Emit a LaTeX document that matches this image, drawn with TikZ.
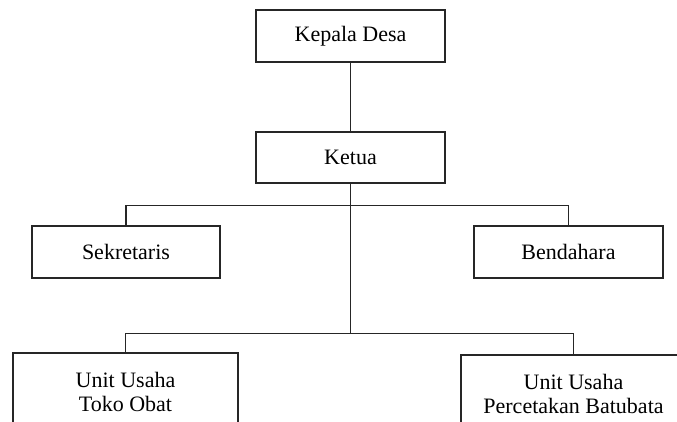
\documentclass[tikz,border=0pt]{standalone}
\usepackage{fontspec}
\setmainfont{Liberation Serif}
\begin{document}
\begin{tikzpicture}[x=1pt,y=-1pt,
  box/.style={draw=black!85,line width=1.4pt,rectangle,inner sep=0pt,align=center,
    font=\fontsize{22}{24.5}\selectfont},
  link/.style={draw=black!85,line width=1.6pt}]
\useasboundingbox (0,0) rectangle (677,421);
\clip (0,0) rectangle (677,421);
\node[box,minimum width=189pt,minimum height=52pt] (kepala) at (350.5,36) {Kepala Desa};
\node[box,minimum width=189pt,minimum height=51pt] (ketua) at (350.5,157.5) {Ketua};
\node[box,minimum width=188pt,minimum height=52pt] (sek) at (126,252) {Sekretaris};
\node[box,minimum width=189pt,minimum height=52pt] (ben) at (568.5,252) {Bendahara};
\node[box,minimum width=225pt,minimum height=78pt] (toko) at (125.5,392) {Unit Usaha\\Toko Obat};
\node[box,minimum width=225pt,minimum height=78pt] (batu) at (573.5,394) {Unit Usaha\\Percetakan Batubata};
\coordinate (busb) at (351,334);
\draw[link] (kepala) -- (ketua);
\draw[link] (ketua.south) -- (ketua.south |- busb);
\draw[link] (sek.north) -- ++(0,-20) -| (ben.north);
\draw[link] (toko.north) -- ++(0,-19) -| (batu.north);
\end{tikzpicture}
\end{document}
